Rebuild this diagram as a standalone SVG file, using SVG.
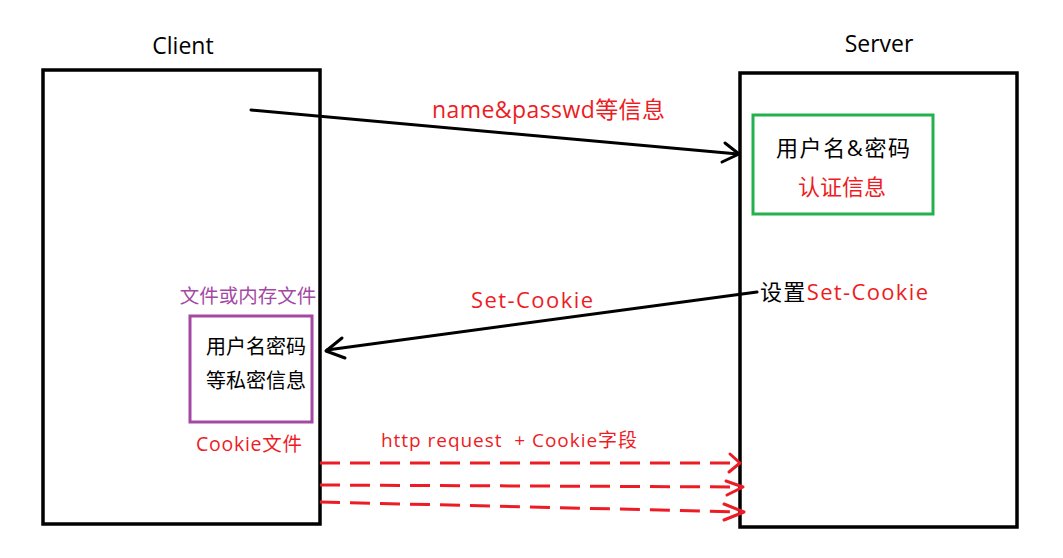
<svg xmlns="http://www.w3.org/2000/svg" width="1063" height="558" viewBox="0 0 1063 558">
<style>
text{font-family:"Open Sans","Noto Sans CJK SC",sans-serif}
.k{fill:#000}
.r{fill:#ed1c24}
.p{fill:#a349a4}
.box{fill:none;stroke:#000;stroke-width:3.5}
.solid{fill:none;stroke:#000;stroke-width:3;stroke-linecap:round;stroke-linejoin:round}
.dash{fill:none;stroke:#ed1c24;stroke-width:3;stroke-dasharray:20 10}
.head{fill:none;stroke:#ed1c24;stroke-width:3;stroke-linecap:round;stroke-linejoin:round}
</style>
<rect width="1063" height="558" fill="#fff"/>
<g id="client">
<text x="183" y="54" font-size="23" text-anchor="middle" class="k">Client</text>
<rect x="43" y="70" width="277" height="454" class="box"/>
</g>
<g id="server">
<text x="879" y="52" font-size="23" text-anchor="middle" class="k">Server</text>
<rect x="740" y="73" width="277" height="454" class="box"/>
</g>
<g id="auth-info">
<rect x="753" y="115" width="180" height="99" fill="none" stroke="#22b14c" stroke-width="3"/>
<text x="843" y="156" font-size="22" text-anchor="middle" class="k" textLength="134">用户名&amp;密码</text>
<text x="842" y="195" font-size="22" text-anchor="middle" class="r">认证信息</text>
</g>
<g id="cookie-file">
<text x="248" y="303" font-size="19.5" text-anchor="middle" class="p">文件或内存文件</text>
<rect x="190" y="316" width="122" height="106" fill="none" stroke="#a349a4" stroke-width="3"/>
<text x="256" y="354" font-size="20" text-anchor="middle" class="k">用户名密码</text>
<text x="256" y="388" font-size="20" text-anchor="middle" class="k">等私密信息</text>
<text x="249" y="451" font-size="19.5" text-anchor="middle" class="r" textLength="106">Cookie文件</text>
</g>
<g id="set-cookie-label">
<text x="760" y="300" font-size="22" class="k" textLength="168">设置<tspan class="r">Set-Cookie</tspan></text>
</g>
<g id="connectors">
<polyline points="251,110 738,154" class="solid"/>
<polyline points="725,143 739,154 722,162" class="solid"/>
<text x="432" y="118" font-size="23" class="r" textLength="233">name&amp;passwd等信息</text>
<polyline points="757,292 327,350" class="solid"/>
<polyline points="342,338 326,351 345,358" class="solid"/>
<text x="471" y="308" font-size="22" class="r" textLength="122">Set-Cookie</text>
<text x="381" y="447" font-size="19" class="r" xml:space="preserve" textLength="256">http request  + Cookie字段</text>
<line x1="320" y1="463" x2="738" y2="463" class="dash"/>
<polyline points="730,454 740,463 729,472" class="head"/>
<polyline points="320,485 742,487" class="dash"/>
<polyline points="726,481 743,487 727,495" class="head"/>
<polyline points="320,502 743,512" class="dash"/>
<polyline points="724,504 744,512 724,520" class="head"/>
</g>
</svg>
